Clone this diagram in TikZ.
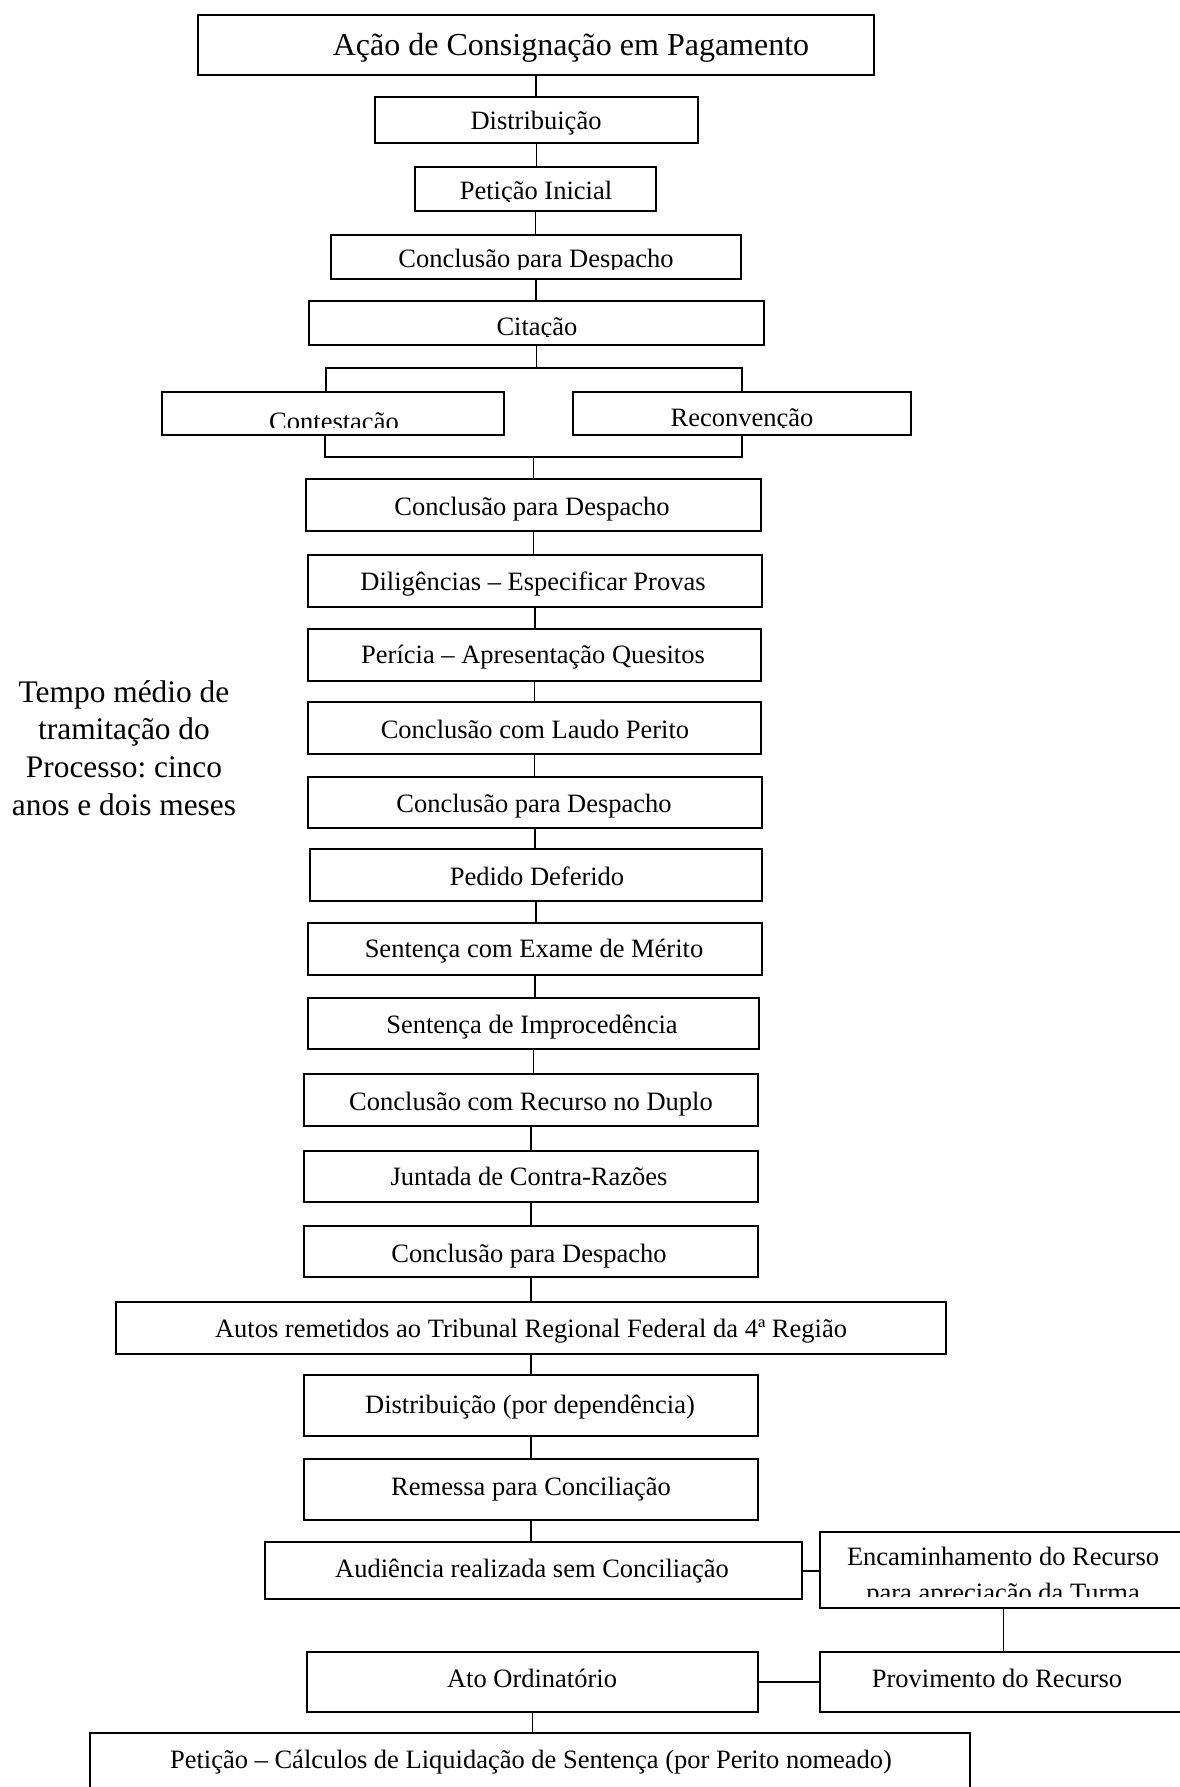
\documentclass[tikz,border=0pt]{standalone}
\usepackage{fontspec}
\setmainfont{Liberation Serif}
\frenchspacing
\tikzset{
 box/.style={draw, line width=1pt, inner sep=0pt, outer sep=0pt, rectangle},
 lbl/.style={anchor=base, inner sep=0pt, font=\fontsize{13.25}{16}\selectfont},
 conn/.style={line width=0.7pt},
 brk/.style={line width=0.9pt},
 hconn/.style={line width=1pt},
}
\newcommand{\mybox}[5]{\node[box, minimum width={(#4-#2)*0.5pt}, minimum height={(#5-#3)*0.5pt}] (#1) at ({(#2+#4)/2},{(#3+#5)/2}) {};}
\newcommand{\mytext}[3]{\node[lbl] at (#1,#2) {#3};}
\begin{document}
\begin{tikzpicture}[x=0.5pt,y=-0.5pt]
\useasboundingbox (0,0) rectangle (1179,1787);
% boxes
\mybox{t}{198}{15}{874}{75}
\node[lbl, font=\fontsize{16}{19}\selectfont] at (571,56) {Ação de Consignação em Pagamento};
\mybox{d1}{375}{97}{698}{143} \mytext{536}{130}{Distribuição}
\mybox{pi}{415}{167}{656}{211}
\begin{scope}\clip (415,167) rectangle (656,202); \mytext{536}{200}{Petição Inicial}\end{scope}
\mybox{c1}{331}{235}{741}{279}
\begin{scope}\clip (331,235) rectangle (741,269); \mytext{536}{267}{Conclusão para Despacho}\end{scope}
\mybox{cit}{309}{301}{764}{345}
\begin{scope}\clip (309,301) rectangle (764,336); \mytext{537}{335}{Citação}\end{scope}
\mybox{cont}{162}{392}{504}{435}
\begin{scope}\clip (162,392) rectangle (504,427); \mytext{334}{430}{Contestação}\end{scope}
\mybox{rec}{573}{392}{911}{435}
\begin{scope}\clip (573,392) rectangle (911,427); \mytext{742}{426}{Reconvenção}\end{scope}
\mybox{c2}{306}{479}{761}{531} \mytext{532}{515}{Conclusão para Despacho}
\mybox{dil}{308}{555}{762}{607} \mytext{533}{590}{Diligências – Especificar Provas}
\mybox{per}{308}{629}{761}{681} \mytext{533}{663}{Perícia – Apresentação Quesitos}
\mybox{lau}{308}{702}{761}{754} \mytext{535}{738}{Conclusão com Laudo Perito}
\mybox{c3}{308}{777}{762}{828} \mytext{534}{812}{Conclusão para Despacho}
\mybox{ped}{310}{849}{762}{901} \mytext{537}{885}{Pedido Deferido}
\mybox{sen}{308}{923}{762}{975} \mytext{534}{957}{Sentença com Exame de Mérito}
\mybox{imp}{308}{998}{759}{1049} \mytext{532}{1033}{Sentença de Improcedência}
\mybox{dup}{304}{1074}{758}{1126} \mytext{531}{1110}{Conclusão com Recurso no Duplo}
\mybox{jun}{304}{1151}{758}{1202} \mytext{529}{1185}{Juntada de Contra-Razões}
\mybox{c4}{304}{1226}{758}{1277} \mytext{529}{1262}{Conclusão para Despacho}
\mybox{aut}{116}{1302}{946}{1354} \mytext{531}{1337}{Autos remetidos ao Tribunal Regional Federal da 4ª Região}
\mybox{dd}{304}{1375}{758}{1436} \mytext{530}{1413}{Distribuição (por dependência)}
\mybox{rem}{304}{1459}{758}{1520} \mytext{531}{1495}{Remessa para Conciliação}
\mybox{aud}{265}{1542}{802}{1599} \mytext{532}{1577}{Audiência realizada sem Conciliação}
\mybox{enc}{820}{1532}{1187}{1608}
\mytext{1003}{1565}{Encaminhamento do Recurso}
\begin{scope}\clip (820,1532) rectangle (1187,1596); \mytext{1003}{1601}{para apreciação da Turma}\end{scope}
\mybox{ato}{307}{1652}{758}{1712} \mytext{532}{1687}{Ato Ordinatório}
\mybox{prov}{820}{1652}{1187}{1712} \mytext{997}{1687}{Provimento do Recurso}
\mybox{pf}{90}{1733}{970}{1790} \mytext{531}{1768}{Petição – Cálculos de Liquidação de Sentença (por Perito nomeado)}
% side note
\node[anchor=north, inner sep=0pt, align=center, font=\fontsize{15.7}{18.85}\selectfont] (note) at (124,680) {Tempo médio de\\tramitação do\\Processo: cinco\\anos e dois meses};
% vertical connectors
\foreach \a/\b in {t/d1, d1/pi, pi/c1, c1/cit, c2/dil, dil/per, per/lau, lau/c3, c3/ped, ped/sen, sen/imp, imp/dup, dup/jun, jun/c4, c4/aut, aut/dd, dd/rem, rem/aud, ato/pf, enc/prov}
  \draw[conn] (\a.south) -- (\a.south |- \b.north);
% split bracket
\coordinate (tl) at (326,368);
\coordinate (tr) at (742,368);
\coordinate (bl) at (325,457);
\coordinate (br) at (742,457);
\draw[conn] (cit.south) -- (cit.south |- tl);
\draw[brk] (tl |- cont.north) -- (tl) -- (tr) -- (tr |- rec.north);
\draw[brk] (bl |- cont.south) -- (bl) -- (br) -- (br |- rec.south);
\draw[conn] (c2.north |- bl) -- (c2.north);
% horizontal connectors
\draw[hconn] (aud.east) -- (aud.east -| enc.west);
\draw[hconn] (prov.west) -- (prov.west -| ato.east);
\end{tikzpicture}
\end{document}
